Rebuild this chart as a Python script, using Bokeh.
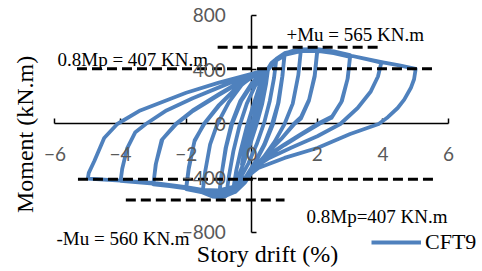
from bokeh.plotting import figure
from bokeh.models import (LinearAxis, FixedTicker, Range1d, Label, Legend,
                          LegendItem, ColumnDataSource)
from bokeh.embed import file_html
from bokeh.resources import INLINE
import math

# ---------------- data ----------------
x_ticks = [-6, -4, -2, 0, 2, 4, 6]
y_ticks = [-800, -400, 0, 400, 800]

drift_c1 = [0, 0.12, 0.25, 0.32, 0.25, 0.1, -0.08, -0.2, -0.3, -0.22, -0.08, 0.06]
moment_c1 = [0, 90, 200, 260, 150, 20, -120, -220, -300, -190, -60, 50]

drift_c2 = [0.2, 0.35, 0.5, 0.44, 0.32, 0.15, -0.05, -0.25, -0.45, -0.55, -0.47, -0.33, -0.15, 0.05, 0.25, 0.45]
moment_c2 = [170, 310, 410, 300, 150, 0, -150, -290, -410, -460, -340, -190, -20, 140, 290, 390]

drift_c3 = [0.6, 0.75, 0.68, 0.55, 0.38, 0.15, -0.1, -0.35, -0.6, -0.78, -0.7, -0.56, -0.38, -0.15, 0.1, 0.35, 0.5]
moment_c3 = [450, 480, 340, 170, 10, -150, -290, -400, -490, -530, -390, -200, -20, 150, 280, 370, 405]

drift_c4 = [0.75, 1.0, 0.94, 0.82, 0.65, 0.4, 0.12, -0.15, -0.45, -0.75, -1.0, -0.93, -0.8, -0.62, -0.35, 0.0, 0.3, 0.5]
moment_c4 = [480, 518, 360, 160, 0, -150, -280, -390, -470, -525, -545, -390, -180, 0, 170, 300, 375, 405]

drift_c4b = [0.75, 1.0, 0.93, 0.8, 0.62, 0.38, 0.1, -0.17, -0.47, -0.77, -1.0, -0.92, -0.78, -0.6, -0.32, 0.02, 0.3, 0.5]
moment_c4b = [470, 505, 350, 150, 0, -150, -280, -385, -465, -515, -530, -370, -170, 0, 170, 295, 370, 400]

drift_c5 = [0.75, 1.0, 1.25, 1.5, 1.42, 1.25, 1.0, 0.7, 0.35, 0.05, -0.2, -0.5, -0.9, -1.2, -1.5, -1.42, -1.27, -1.05, -0.7, -0.3, 0.1, 0.5]
moment_c5 = [480, 520, 540, 548, 360, 150, 0, -130, -250, -340, -430, -500, -540, -535, -505, -350, -150, 0, 160, 290, 370, 405]

drift_c6 = [0.75, 1.0, 1.5, 2.0, 1.92, 1.75, 1.5, 1.28, 0.9, 0.45, 0.05, -0.2, -0.5, -1.0, -1.5, -2.0, -1.92, -1.75, -1.46, -1.0, -0.5, 0.0, 0.5]
moment_c6 = [480, 522, 550, 552, 360, 180, 50, 0, -110, -220, -330, -425, -500, -535, -505, -480, -330, -130, 0, 140, 260, 350, 405]

drift_c6b = [0.75, 1.0, 1.5, 2.0, 1.92, 1.74, 1.5, 1.3, 0.92, 0.47, 0.07, -0.2, -0.5, -1.0, -1.5, -2.0, -1.92, -1.74, -1.45, -1.0, -0.5, 0.0, 0.5]
moment_c6b = [470, 512, 540, 540, 350, 170, 40, 0, -105, -215, -325, -420, -490, -525, -495, -470, -320, -120, 0, 135, 255, 345, 400]

drift_c7 = [0.75, 1.0, 1.5, 2.0, 2.5, 3.0, 2.93, 2.75, 2.45, 2.0, 1.5, 1.0, 0.5, 0.05, -0.2, -0.5, -1.0, -1.5, -2.0, -2.5, -3.0, -2.93, -2.75, -2.32, -1.8, -1.0, -0.3, 0.5]
moment_c7 = [480, 522, 550, 552, 535, 508, 340, 170, 55, 0, -75, -150, -230, -320, -420, -490, -520, -500, -475, -458, -445, -300, -120, 0, 100, 220, 320, 405]

drift_c7b = [0.75, 1.0, 1.5, 2.0, 2.5, 3.0, 2.92, 2.73, 2.43, 2.05, 1.5, 1.0, 0.5, 0.05, -0.2, -0.5, -1.0, -1.5, -2.0, -2.5, -3.0, -2.92, -2.72, -2.3, -1.8, -1.0, -0.3, 0.5]
moment_c7b = [470, 510, 538, 540, 522, 495, 330, 160, 45, 0, -80, -155, -235, -322, -415, -480, -510, -492, -468, -452, -440, -290, -110, 0, 95, 215, 315, 400]

drift_c8 = [0.75, 1.0, 1.5, 2.0, 2.5, 3.0, 3.5, 3.95, 3.85, 3.63, 3.23, 2.7, 2.0, 1.2, 0.5, 0.05, -0.2, -0.5, -1.0, -1.5, -2.0, -3.0, -4.0, -3.95, -3.8, -3.55, -3.23, -2.6, -1.8, -1.0, -0.3, 0.5]
moment_c8 = [475, 518, 545, 548, 532, 505, 478, 452, 350, 240, 118, 0, -90, -175, -255, -325, -410, -475, -505, -495, -470, -440, -420, -330, -180, -60, 0, 100, 190, 270, 340, 405]

drift_c9 = [0.75, 1.0, 1.5, 2.0, 3.0, 4.0, 4.5, 5.0, 4.95, 4.85, 4.65, 4.45, 4.15, 3.87, 3.0, 2.0, 1.0, 0.2, -0.2, -0.5, -1.0, -1.5, -2.0, -3.0, -4.0, -5.0, -4.97, -4.8, -4.5, -4.1, -3.4, -2.0, -1.0, 0.0, 0.5]
moment_c9 = [470, 515, 540, 545, 505, 455, 432, 407, 330, 265, 180, 118, 50, 0, -74, -177, -250, -324, -400, -460, -490, -485, -465, -435, -418, -403, -360, -273, -103, 0, 100, 230, 305, 370, 405]

# reference moment lines: +Mu, +0.8Mp, -0.8Mp, -Mu
ref_moment = [565, 407, -407, -560]
ref_x_start = [-1.04, -5.33, -5.30, -3.84]
ref_x_end = [3.87, 5.55, 5.55, 1.0]

series_name = "CFT9"
x_title = "Story drift (%)"
y_title = "Moment (kN.m)"
note_pos_mu = "+Mu = 565 KN.m"
note_pos_mp = "0.8Mp = 407 KN.m"
note_neg_mp = "0.8Mp=407 KN.m"
note_neg_mu = "-Mu = 560 KN.m"

drift = (drift_c1 + drift_c2 + drift_c3 + drift_c4 + drift_c4b + drift_c5 +
         drift_c6 + drift_c6b + drift_c7 + drift_c7b + drift_c8 + drift_c9)
moment = (moment_c1 + moment_c2 + moment_c3 + moment_c4 + moment_c4b + moment_c5 +
          moment_c6 + moment_c6b + moment_c7 + moment_c7b + moment_c8 + moment_c9)

# ---------------- figure ----------------
W, H = 482, 271
p = figure(width=W, height=H, output_backend="svg", toolbar_location=None,
           x_range=Range1d(-7.662, 7.037), y_range=Range1d(-1087.6, 910.6),
           x_axis_location=None, y_axis_location=None, min_border=0,
           background_fill_color="white", border_fill_color="white")
p.outline_line_color = None
p.grid.grid_line_color = None

BLUE = "#4F81BD"
GREY = "#595959"
SERIF = "Liberation Serif"
SANS = "Lato"

src = ColumnDataSource(dict(x=drift, y=moment))
r = p.line("x", "y", source=src, line_color=BLUE, line_width=3.8, line_join="round")

seg_src = ColumnDataSource(dict(x0=ref_x_start, x1=ref_x_end, y=ref_moment))
p.segment(x0="x0", y0="y", x1="x1", y1="y", source=seg_src,
          line_color="black", line_width=3, line_dash="10 5")

# axis lines (drawn below the curve)
xa_line = LinearAxis(fixed_location=0, bounds=(-6, 6), ticker=FixedTicker(ticks=x_ticks),
                     axis_line_width=1.5, major_tick_in=5, major_tick_out=0,
                     major_tick_line_width=1.5, minor_tick_line_color=None,
                     major_label_text_color=None, level="underlay")
ya_line = LinearAxis(fixed_location=0, bounds=(-800, 800), ticker=FixedTicker(ticks=y_ticks),
                     axis_line_width=1.5, major_tick_in=5, major_tick_out=0,
                     major_tick_line_width=1.5, minor_tick_line_color=None,
                     major_label_text_color=None, level="underlay")
p.add_layout(xa_line, "below")
p.add_layout(ya_line, "left")

# axis labels (drawn on top)
xa_lbl = LinearAxis(fixed_location=0, ticker=FixedTicker(ticks=x_ticks),
                    axis_line_color=None, major_tick_line_color=None,
                    minor_tick_line_color=None, major_label_standoff=17,
                    major_label_text_font=SANS, major_label_text_font_size="19px",
                    major_label_text_color=GREY, level="overlay")
ya_lbl = LinearAxis(fixed_location=0, ticker=FixedTicker(ticks=y_ticks),
                    axis_line_color=None, major_tick_line_color=None,
                    minor_tick_line_color=None, major_label_standoff=20,
                    major_label_text_font=SANS, major_label_text_font_size="19px",
                    major_label_text_color=GREY, level="overlay")
p.add_layout(xa_lbl, "below")
p.add_layout(ya_lbl, "left")

def note(x, y, text, size="19px", **kw):
    p.add_layout(Label(x=x, y=y, text=text, text_font=SERIF, text_font_size=size,
                       text_color="black", text_baseline="alphabetic", **kw))

note(-5.924, 475, note_pos_mp)
note(1.06, 660, note_pos_mu)
note(1.67, -680, note_neg_mp)
note(-5.955, -845, note_neg_mu)
note(-6.90, -77, y_title, size="24px", angle=math.pi / 2, text_align="center")
note(0.48, -962, x_title, size="24px", text_align="center")

legend = Legend(items=[LegendItem(label=series_name, renderers=[r])],
                location=(371, 16), orientation="vertical",
                glyph_width=50, glyph_height=20, label_standoff=4,
                padding=0, margin=0, spacing=0,
                border_line_color=None, background_fill_alpha=0,
                label_text_font=SERIF, label_text_font_size="22px",
                label_text_color="black")
p.add_layout(legend)

open("out.html", "w").write(file_html(p, INLINE))
